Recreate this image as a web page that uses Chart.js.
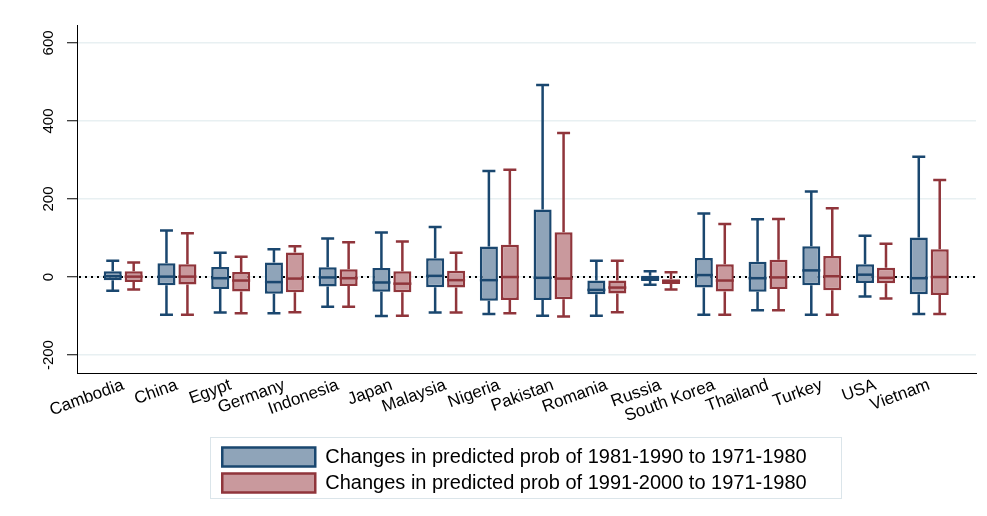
<!DOCTYPE html>
<html>
<head>
<meta charset="utf-8">
<script src="https://cdn.jsdelivr.net/npm/chart.js@4.4.1/dist/chart.umd.min.js"></script>
<style>
  html, body { margin: 0; padding: 0; background: #fff; }
  #wrap { width: 987px; height: 516px; position: relative; }
</style>
</head>
<body>
<div id="wrap"><canvas id="boxChart"></canvas></div>
<script>
const countries = ['Cambodia', 'China', 'Egypt', 'Germany', 'Indonesia', 'Japan', 'Malaysia', 'Nigeria',
    'Pakistan', 'Romania', 'Russia', 'South Korea', 'Thailand', 'Turkey', 'USA', 'Vietnam'];
const yTicks = [-200, 0, 200, 400, 600];
const label80s = 'Changes in predicted prob of 1981-1990 to 1971-1980';
const label90s = 'Changes in predicted prob of 1991-2000 to 1971-1980';

// 1981-1990 vs 1971-1980 (lower whisker, Q1, median, Q3, upper whisker)
const min80s = [-35, -97, -91, -93, -76, -100, -91, -95, -99, -99, -20, -97, -85, -97, -50, -95];
const q1_80s = [-8, -21, -31, -43, -24, -38, -26, -61, -59, -44, -10, -27, -38, -21, -15, -44];
const med80s = [2, 1, -3, -13, -1, -14, 3, -8, -2, -33, -4, 5, -3, 17, 6, -3];
const q3_80s = [15, 35, 26, 37, 25, 23, 48, 78, 173, -9, 3, 49, 39, 79, 33, 101];
const max80s = [42, 119, 62, 71, 99, 114, 128, 272, 492, 42, 15, 163, 148, 219, 106, 308];

// 1991-2000 vs 1971-1980
const min90s = [-32, -97, -93, -90, -76, -99, -91, -93, -101, -90, -32, -97, -85, -97, -55, -95];
const q1_90s = [-13, -19, -37, -39, -23, -39, -27, -59, -57, -42, -18, -37, -31, -34, -16, -46];
const med90s = [1, 1, -9, -4, -3, -17, -8, 0, -4, -27, -11, -9, -1, 2, -2, 0];
const q3_90s = [15, 33, 13, 63, 20, 15, 16, 83, 115, -9, -6, 33, 44, 54, 24, 71];
const max90s = [37, 112, 52, 79, 89, 91, 62, 275, 369, 42, 12, 136, 149, 176, 85, 249];

const blueLine = '#1a476f', blueFill = '#8fa4b9';
const redLine = '#90353b', redFill = '#c9999d';
const font = 'Liberation Sans, Arial, sans-serif';

const series = [
    { color: blueLine, min: min80s, q1: q1_80s, med: med80s, q3: q3_80s, max: max80s },
    { color: redLine, min: min90s, q1: q1_90s, med: med90s, q3: q3_90s, max: max90s }
];

// whiskers, caps, medians, zero line and legend frame
const boxExtras = {
    id: 'boxExtras',
    afterUpdate(chart) {
        // stata puts the legend content a bit left of centre
        const lg = chart.legend;
        lg.left -= 12;
        lg.right -= 12;
        lg.adjustHitBoxes();
    },
    beforeDatasetsDraw(chart) {
        const { ctx, chartArea, scales: { y } } = chart;
        const y0 = y.getPixelForValue(0);
        ctx.save();
        ctx.strokeStyle = '#000';
        ctx.lineWidth = 2;
        ctx.setLineDash([2, 4]);
        ctx.beginPath();
        ctx.moveTo(chartArea.left + 2, y0);
        ctx.lineTo(chartArea.right, y0);
        ctx.stroke();
        ctx.setLineDash([]);
        series.forEach((s, di) => {
            const meta = chart.getDatasetMeta(di);
            ctx.strokeStyle = s.color;
            ctx.lineWidth = 2.5;
            meta.data.forEach((bar, i) => {
                const x = bar.x;
                const half = bar.width * 0.36;
                const yMin = y.getPixelForValue(s.min[i]);
                const yMax = y.getPixelForValue(s.max[i]);
                ctx.beginPath();
                ctx.moveTo(x, y.getPixelForValue(s.q1[i]));
                ctx.lineTo(x, yMin);
                ctx.moveTo(x - half, yMin);
                ctx.lineTo(x + half, yMin);
                ctx.moveTo(x, y.getPixelForValue(s.q3[i]));
                ctx.lineTo(x, yMax);
                ctx.moveTo(x - half, yMax);
                ctx.lineTo(x + half, yMax);
                ctx.stroke();
            });
        });
        ctx.restore();
    },
    afterDatasetsDraw(chart) {
        const { ctx, scales: { y } } = chart;
        ctx.save();
        series.forEach((s, di) => {
            const meta = chart.getDatasetMeta(di);
            ctx.strokeStyle = s.color;
            ctx.lineWidth = 2.5;
            meta.data.forEach((bar, i) => {
                const ym = y.getPixelForValue(s.med[i]);
                ctx.beginPath();
                ctx.moveTo(bar.x - bar.width / 2, ym);
                ctx.lineTo(bar.x + bar.width / 2, ym);
                ctx.stroke();
            });
        });
        ctx.restore();
    },
    afterDraw(chart) {
        const lg = chart.legend;
        const pad = lg.options.labels.padding;
        const rowW = lg.lineWidths[0] - pad;
        const start = (lg.left + pad + lg.right - lg.lineWidths[0]) / 2;
        const l = start - 12;
        const r = start + rowW + 35;
        const t = lg.top + pad - 10;
        const btm = lg.top + pad + 25 + 19 + 7;
        const ctx = chart.ctx;
        ctx.save();
        ctx.strokeStyle = '#dbe5ea';
        ctx.lineWidth = 1;
        ctx.strokeRect(Math.round(l) + 0.5, Math.round(t) + 0.5, Math.round(r - l), Math.round(btm - t));
        ctx.restore();
    }
};

new Chart(document.getElementById('boxChart'), {
    type: 'bar',
    data: {
        datasets: [
            {
                label: label80s,
                data: countries.map((c, i) => ({ x: i, y: [q1_80s[i], q3_80s[i]] })),
                backgroundColor: blueFill,
                borderColor: blueLine,
                borderWidth: 2.5,
                borderSkipped: false
            },
            {
                label: label90s,
                data: countries.map((c, i) => ({ x: i, y: [q1_90s[i], q3_90s[i]] })),
                backgroundColor: redFill,
                borderColor: redLine,
                borderWidth: 2.5,
                borderSkipped: false
            }
        ]
    },
    options: {
        responsive: true,
        maintainAspectRatio: false,
        animation: false,
        categoryPercentage: 0.78,
        barPercentage: 0.86,
        layout: { padding: { top: 25, right: 11, bottom: 13, left: 0 } },
        scales: {
            x: {
                type: 'linear',
                offset: false,
                min: -0.86,
                max: 15.87,
                afterBuildTicks: s => { s.ticks = countries.map((c, i) => ({ value: i })); },
                afterFit: s => { s.height = 68; },
                grid: { offset: false, drawOnChartArea: false, drawTicks: false },
                border: { color: '#000', width: 1 },
                ticks: {
                    autoSkip: false,
                    minRotation: 20,
                    maxRotation: 20,
                    padding: 2,
                    color: '#000',
                    font: { family: font, size: 17 },
                    callback: v => countries[v]
                }
            },
            y: {
                min: -246,
                max: 646,
                afterBuildTicks: s => { s.ticks = yTicks.map(v => ({ value: v })); },
                afterFit: s => { s.width = 77; },
                grid: { color: '#e8f0f2', lineWidth: 1.5, tickColor: '#000', tickLength: 10, tickWidth: 1 },
                border: { color: '#000', width: 1 },
                ticks: {
                    minRotation: 90,
                    maxRotation: 90,
                    crossAlign: 'center',
                    padding: 3,
                    color: '#000',
                    font: { family: font, size: 15 }
                }
            }
        },
        plugins: {
            tooltip: { enabled: false },
            legend: {
                position: 'bottom',
                fullSize: false,
                align: 'center',
                labels: {
                    boxWidth: 93,
                    boxHeight: 19,
                    padding: 6,
                    color: '#000',
                    font: { family: font, size: 20 }
                }
            }
        }
    },
    plugins: [boxExtras]
});
</script>
</body>
</html>
